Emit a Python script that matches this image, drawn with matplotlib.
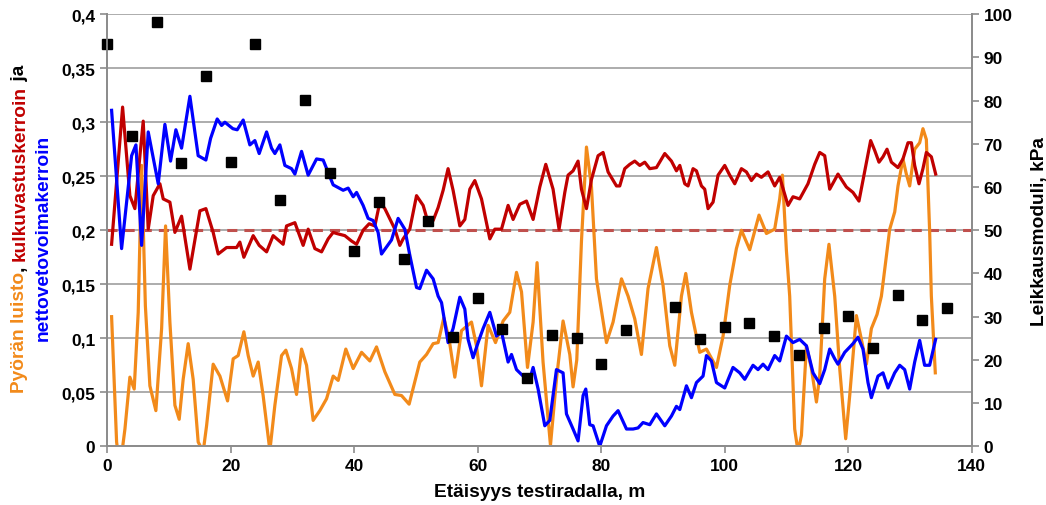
import numpy as np
import matplotlib.pyplot as plt

plt.rcParams['font.family'] = ['Liberation Sans', 'DejaVu Sans']
plt.rcParams['font.weight'] = 'bold'

# ==========================
# Data
# ==========================

# net traction coefficient (blue)
net_x = [0.71, 2.33, 3.95, 4.65, 5.57, 6.64, 8.26, 9.34, 10.26, 11.12, 12.04, 13.39, 14.73, 15.98,
         16.74, 17.81, 18.52, 19.05, 20.35, 21.05, 22.02, 23.10, 23.91, 24.61, 25.81, 26.61, 27.15,
         27.96, 28.77, 29.85, 30.39, 31.47, 32.54, 33.90, 34.97, 36.59, 38.21, 39.02, 39.83, 40.38,
         41.44, 42.25, 43.06, 43.87, 44.42, 46.04, 47.11, 48.19, 49.00, 50.09, 50.62, 51.71, 52.78,
         53.59, 54.14, 55.20, 56.01, 57.10, 57.91, 58.44, 59.25, 60.06, 60.87, 61.96, 63.04, 63.85,
         64.92, 65.47, 66.28, 67.35, 68.43, 68.97, 69.78, 70.86, 71.67, 72.75, 73.82, 74.37, 75.44,
         76.25, 77.06, 77.50, 78.14, 78.68, 79.76, 80.85, 81.92, 82.73, 84.09, 85.16, 85.96, 86.77,
         87.86, 88.94, 90.29, 91.37, 92.18, 92.72, 93.80, 94.61, 95.42, 96.49, 97.04, 97.85, 98.66,
         100.00, 101.34, 102.43, 103.24, 104.58, 105.39, 106.20, 107.01, 108.09, 108.90, 109.99,
         111.06, 112.14, 113.23, 114.30, 115.38, 116.19, 117.00, 117.81, 118.34, 119.43, 120.77,
         121.58, 122.39, 123.20, 123.75, 124.82, 125.63, 126.44, 127.52, 128.33, 129.14, 129.95,
         130.76, 131.57, 132.37, 133.18, 134.15]
net_y = [0.311, 0.183, 0.269, 0.279, 0.186, 0.291, 0.243, 0.298, 0.264, 0.293, 0.276, 0.324, 0.269,
         0.265, 0.285, 0.303, 0.297, 0.300, 0.294, 0.293, 0.302, 0.279, 0.283, 0.271, 0.291, 0.276,
         0.271, 0.279, 0.260, 0.257, 0.252, 0.273, 0.251, 0.266, 0.265, 0.242, 0.237, 0.239, 0.231,
         0.235, 0.223, 0.211, 0.209, 0.198, 0.178, 0.191, 0.211, 0.201, 0.177, 0.147, 0.146, 0.163,
         0.155, 0.139, 0.133, 0.096, 0.109, 0.138, 0.127, 0.099, 0.082, 0.096, 0.109, 0.124, 0.102,
         0.106, 0.078, 0.085, 0.071, 0.065, 0.062, 0.073, 0.053, 0.019, 0.024, 0.071, 0.068, 0.030,
         0.016, 0.005, 0.047, 0.053, 0.020, 0.019, 0.000, 0.019, 0.028, 0.033, 0.016, 0.016, 0.017,
         0.022, 0.020, 0.030, 0.019, 0.028, 0.037, 0.034, 0.056, 0.045, 0.059, 0.065, 0.084, 0.079,
         0.059, 0.054, 0.073, 0.068, 0.062, 0.075, 0.071, 0.076, 0.071, 0.084, 0.079, 0.102, 0.096,
         0.099, 0.093, 0.068, 0.058, 0.071, 0.090, 0.081, 0.076, 0.087, 0.095, 0.101, 0.090, 0.059,
         0.045, 0.065, 0.068, 0.054, 0.068, 0.075, 0.071, 0.053, 0.078, 0.098, 0.075, 0.075, 0.099]

# rolling resistance coefficient (dark red)
roll_x = [0.71, 2.49, 3.67, 4.48, 5.83, 6.64, 7.45, 8.53, 9.07, 10.15, 10.96, 12.04, 13.39, 15.01,
          15.98, 17.16, 17.97, 19.33, 20.95, 21.48, 22.13, 23.64, 24.61, 25.81, 26.87, 28.49, 29.04,
          30.39, 31.73, 32.54, 33.63, 34.71, 35.78, 36.59, 37.14, 38.48, 39.57, 40.38, 41.44, 42.42,
          43.34, 44.15, 44.96, 46.58, 47.39, 47.92, 49.00, 50.09, 51.16, 51.97, 52.78, 53.59, 54.40,
          55.20, 56.01, 57.10, 57.91, 58.72, 59.53, 60.61, 61.96, 62.77, 63.85, 64.92, 65.73, 66.81,
          67.90, 68.97, 70.05, 71.02, 72.20, 73.17, 74.10, 74.63, 75.44, 76.25, 76.80, 77.61, 78.42,
          79.49, 80.30, 81.11, 82.47, 83.00, 83.81, 84.62, 85.43, 86.24, 87.05, 87.86, 88.94, 90.29,
          91.37, 92.18, 92.72, 93.53, 94.06, 94.87, 95.42, 96.23, 96.76, 97.30, 98.11, 98.92, 100.00,
          100.81, 101.62, 102.70, 103.51, 104.32, 105.13, 105.94, 107.01, 108.09, 108.90, 110.25,
          111.06, 112.14, 113.48, 114.57, 115.38, 116.19, 117.00, 118.34, 119.70, 120.77, 121.74,
          122.66, 123.63, 124.28, 124.98, 125.63, 126.28, 126.99, 128.05, 128.86, 129.68, 130.23,
          130.76, 131.46, 132.10, 132.65, 133.46, 134.16]
roll_y = [0.187, 0.314, 0.232, 0.220, 0.301, 0.201, 0.232, 0.243, 0.229, 0.226, 0.198, 0.213, 0.164,
          0.218, 0.220, 0.198, 0.178, 0.184, 0.184, 0.189, 0.175, 0.195, 0.186, 0.180, 0.195, 0.187,
          0.204, 0.207, 0.186, 0.201, 0.183, 0.180, 0.192, 0.198, 0.197, 0.195, 0.190, 0.187, 0.200,
          0.206, 0.204, 0.226, 0.220, 0.201, 0.186, 0.192, 0.201, 0.232, 0.223, 0.207, 0.209, 0.221,
          0.237, 0.257, 0.237, 0.204, 0.210, 0.238, 0.246, 0.229, 0.192, 0.201, 0.201, 0.223, 0.210,
          0.224, 0.227, 0.210, 0.240, 0.261, 0.238, 0.201, 0.235, 0.251, 0.255, 0.264, 0.238, 0.220,
          0.247, 0.269, 0.272, 0.254, 0.241, 0.241, 0.257, 0.261, 0.264, 0.260, 0.263, 0.257, 0.258,
          0.271, 0.264, 0.255, 0.260, 0.243, 0.241, 0.257, 0.255, 0.241, 0.238, 0.220, 0.226, 0.251,
          0.260, 0.251, 0.243, 0.257, 0.254, 0.246, 0.252, 0.249, 0.254, 0.241, 0.249, 0.223, 0.231,
          0.229, 0.243, 0.261, 0.272, 0.269, 0.238, 0.252, 0.240, 0.235, 0.227, 0.254, 0.283, 0.274,
          0.263, 0.268, 0.275, 0.263, 0.258, 0.266, 0.281, 0.281, 0.260, 0.243, 0.257, 0.272, 0.268,
          0.252]

# wheel slip (orange)
slip_x = [0.71, 1.52, 2.06, 2.87, 3.67, 4.37, 5.02, 5.57, 6.18, 6.91, 7.88, 8.81, 9.45, 10.15, 10.96,
          11.66, 12.30, 13.11, 13.92, 14.73, 15.54, 16.09, 17.16, 18.25, 19.49, 20.40, 21.21, 22.13,
          22.83, 23.64, 24.45, 25.25, 26.34, 27.15, 28.23, 28.93, 29.85, 30.66, 31.47, 32.28, 33.35,
          34.43, 35.52, 36.59, 37.40, 38.64, 39.83, 41.19, 42.53, 43.61, 44.96, 46.58, 47.66, 48.89,
          50.62, 51.71, 52.78, 53.59, 54.51, 55.37, 56.29, 57.37, 58.99, 59.80, 60.61, 61.68, 62.88,
          64.11, 65.19, 66.28, 67.09, 68.06, 68.97, 69.61, 70.58, 71.78, 72.75, 73.82, 74.91, 75.44,
          76.04, 76.80, 77.61, 78.42, 79.23, 80.85, 81.92, 83.28, 84.35, 85.43, 86.51, 87.58, 88.94,
          90.01, 91.10, 91.91, 92.99, 93.69, 94.61, 95.95, 97.04, 98.66, 99.73, 100.81, 101.89,
          102.70, 104.05, 105.55, 106.75, 108.09, 108.90, 109.34, 109.99, 110.52, 111.33, 111.87,
          112.42, 113.23, 114.04, 114.85, 115.38, 116.19, 116.88, 117.81, 118.62, 119.59, 120.24,
          121.32, 122.13, 122.94, 123.75, 124.66, 125.37, 126.18, 126.72, 127.53, 128.06, 128.86,
          129.41, 129.95, 130.76, 131.57, 132.10, 132.65, 133.19, 133.46, 133.82, 134.10]
slip_y = [0.120, 0.004, -0.020, 0.016, 0.064, 0.053, 0.124, 0.260, 0.130, 0.056, 0.033, 0.109, 0.204,
          0.115, 0.038, 0.025, 0.062, 0.095, 0.062, 0.004, -0.005, 0.019, 0.076, 0.065, 0.042, 0.081,
          0.084, 0.106, 0.084, 0.065, 0.078, 0.047, -0.004, 0.038, 0.084, 0.089, 0.072, 0.048, 0.090,
          0.075, 0.024, 0.033, 0.044, 0.065, 0.061, 0.090, 0.072, 0.087, 0.079, 0.092, 0.069, 0.048,
          0.047, 0.039, 0.078, 0.085, 0.095, 0.096, 0.119, 0.099, 0.064, 0.107, 0.115, 0.093, 0.056,
          0.112, 0.096, 0.116, 0.124, 0.161, 0.143, 0.073, 0.115, 0.170, 0.078, 0.001, 0.062, 0.116,
          0.085, 0.055, 0.080, 0.190, 0.277, 0.240, 0.155, 0.096, 0.115, 0.155, 0.139, 0.118, 0.085,
          0.146, 0.184, 0.149, 0.093, 0.075, 0.139, 0.160, 0.124, 0.087, 0.090, 0.073, 0.102, 0.149,
          0.183, 0.200, 0.182, 0.214, 0.197, 0.201, 0.229, 0.251, 0.181, 0.139, 0.016, -0.005, 0.010,
          0.093, 0.072, 0.041, 0.065, 0.155, 0.187, 0.139, 0.072, 0.007, 0.047, 0.121, 0.099, 0.076,
          0.109, 0.122, 0.139, 0.176, 0.201, 0.217, 0.241, 0.266, 0.252, 0.241, 0.275, 0.281, 0.294,
          0.284, 0.198, 0.139, 0.099, 0.068]

# shear modulus, kPa (black squares, right axis)
shear_x = [0, 4, 8, 12, 16, 20, 24, 28, 32, 36, 40, 44, 48, 52, 56, 60, 64, 68, 72, 76, 80, 84,
           92, 96, 100, 104, 108, 112, 116, 120, 124, 128, 132, 136]
shear_kpa = [93.0, 71.7, 98.1, 65.5, 85.6, 65.9, 93.0, 57.0, 80.2, 63.3, 45.1, 56.5, 43.4, 52.2,
             25.2, 34.3, 27.2, 15.7, 25.8, 25.1, 19.0, 26.9, 32.2, 24.8, 27.5, 28.5, 25.5, 21.1,
             27.3, 30.1, 22.8, 35.1, 29.2, 32.0]

reference_level = 0.2

left_ticks = [0, 0.05, 0.1, 0.15, 0.2, 0.25, 0.3, 0.35, 0.4]
left_labels = ["0", "0,05", "0,1", "0,15", "0,2", "0,25", "0,3", "0,35", "0,4"]
right_ticks = list(range(0, 101, 10))
x_ticks = list(range(0, 141, 20))

# ==========================
# Plot
# ==========================

ORANGE = "#F28A1A"
RED = "#C00000"
BLUE = "#0000FF"
GRID = "#A6A6A6"
TITLE_SIZE = 13.8

fig = plt.figure(figsize=(10.46, 5.06), dpi=100)
ax = fig.add_axes([0.1025, 0.116, 0.8265, 0.854])

ax.set_xlim(0, 140)
ax.set_ylim(0, 0.4)
ax.set_yticks(left_ticks)
ax.set_yticklabels(left_labels)
ax.set_xticks(x_ticks)
ax.grid(axis="y", color=GRID, lw=1.3)
ax.set_axisbelow(True)

ax.axhline(reference_level, color="#C0504D", lw=2.2, ls=(0, (3.3, 2.3)), zorder=2)
ax.plot(slip_x, slip_y, color=ORANGE, lw=2.3, zorder=3, solid_joinstyle="round")
ax.plot(roll_x, roll_y, color=RED, lw=2.3, zorder=4, solid_joinstyle="round")
ax.plot(net_x, net_y, color=BLUE, lw=2.3, zorder=5, solid_joinstyle="round")

ax2 = ax.twinx()
ax2.set_ylim(0, 100)
ax2.set_yticks(right_ticks)
ax2.plot(shear_x, shear_kpa, ls="none", marker="s", ms=7, color="black", clip_on=False)

for a in (ax, ax2):
    a.spines["top"].set_visible(False)
    for side in ("left", "right", "bottom"):
        a.spines[side].set_color("#8C8C8C")
        a.spines[side].set_linewidth(1.3)
    a.tick_params(direction="out", length=5, width=1.2, color="#8C8C8C",
                  labelsize=12.5, labelcolor="black")

ax.set_xlabel("Etäisyys testiradalla, m", fontsize=TITLE_SIZE, fontweight="bold", labelpad=7)
ax2.set_ylabel("Leikkausmoduli, kPa", fontsize=TITLE_SIZE, fontweight="bold", labelpad=13)

# multi-coloured rotated y-label on the left
fig.canvas.draw()
renderer = fig.canvas.get_renderer()
pieces = [("Pyörän luisto", ORANGE), (", ", "black"), ("kulkuvastuskerroin", RED), (" ja", "black")]
y_px = 506 - 393
for txt, col in pieces:
    t = fig.text(20 / 1046, y_px / 506, txt, rotation=90, color=col, fontsize=TITLE_SIZE,
                 fontweight="bold", ha="center", va="bottom")
    bb = t.get_window_extent(renderer)
    y_px += bb.height
fig.text(43 / 1046, 1 - 238 / 506, "nettovetovoimakerroin", rotation=90, color=BLUE,
         fontsize=TITLE_SIZE, fontweight="bold", ha="center", va="center")

fig.savefig("out.png", dpi=100)
